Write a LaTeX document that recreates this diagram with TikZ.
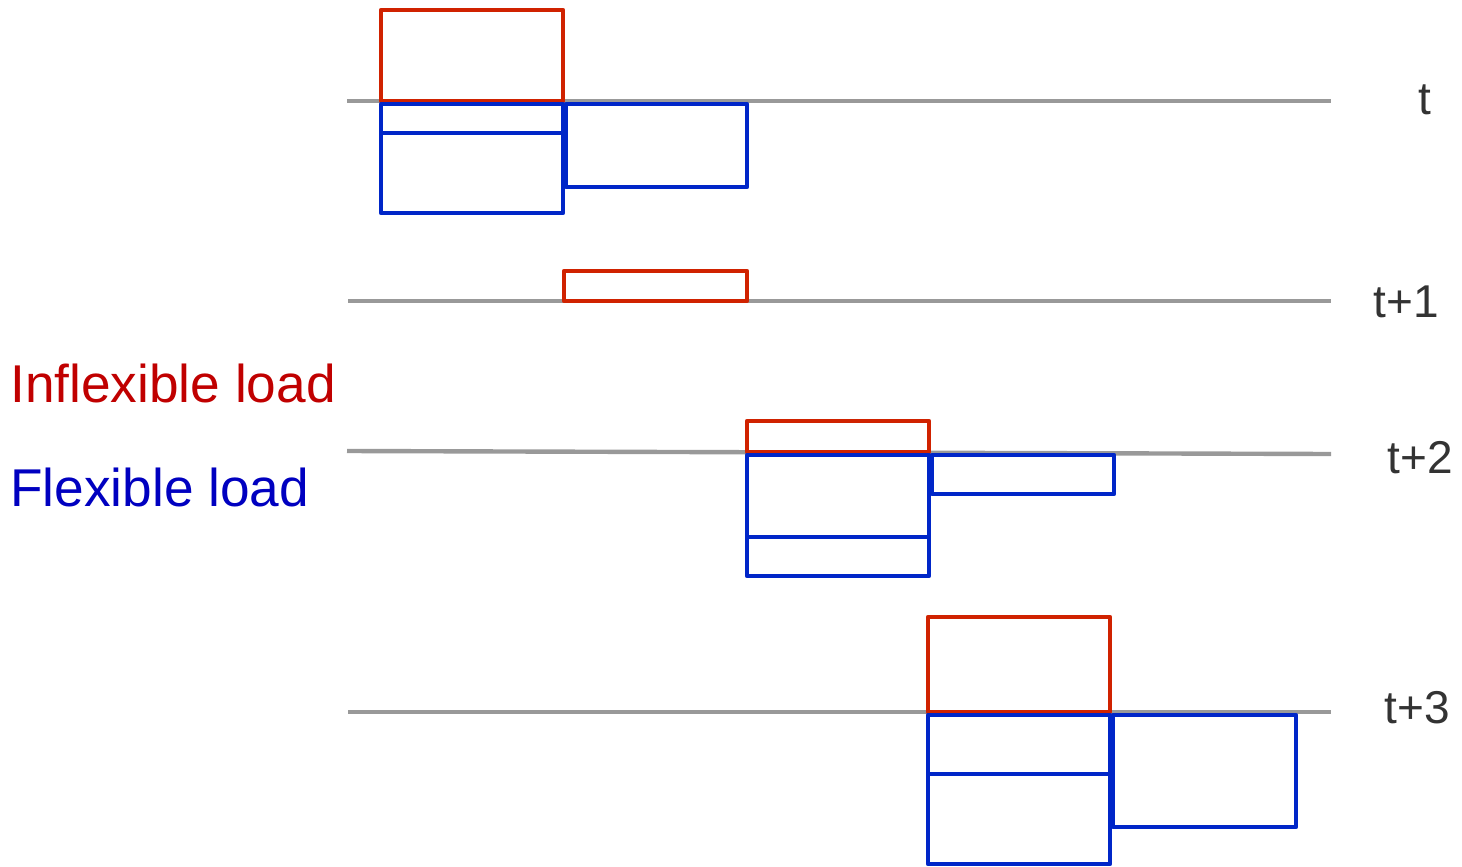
\documentclass[tikz,border=0pt]{standalone}
\usepackage{fontspec}
\setmainfont{Liberation Sans}
\definecolor{boxred}{RGB}{208,34,0}
\definecolor{boxblue}{RGB}{0,38,200}
\definecolor{axisgrey}{RGB}{153,153,153}
\definecolor{txtred}{RGB}{192,0,0}
\definecolor{txtblue}{RGB}{0,0,192}
\definecolor{txtgrey}{RGB}{51,51,51}
\tikzset{
  redbox/.style={draw=boxred,line width=2.4pt,line join=round},
  bluebox/.style={draw=boxblue,line width=2.4pt,line join=round},
  axisline/.style={draw=axisgrey,line width=2.2pt},
  timelabel/.style={text=txtgrey,anchor=base,inner sep=0pt,font=\fontsize{23}{27}\selectfont},
  legend/.style={anchor=base west,inner sep=0pt,font=\fontsize{26.6}{31}\selectfont}
}
\begin{document}
\begin{tikzpicture}[x=0.5pt,y=-0.5pt]
\useasboundingbox (0,0) rectangle (1462,867);
% axis lines
\draw[axisline] (347,101) -- (1331,101);
\draw[axisline] (348,301) -- (1331,301);
\draw[axisline] (347,451) -- (1331,454);
\draw[axisline] (348,712) -- (1331,712);
% row t
\draw[redbox] (381,10) rectangle (563,101);
\draw[bluebox] (381,104) rectangle (563,213);
\draw[bluebox] (381,133) -- (563,133);
\draw[bluebox] (566,104) rectangle (747,187);
% row t+1
\draw[redbox] (564,271) rectangle (747,301);
% row t+2
\draw[redbox] (747,421) rectangle (929,452);
\draw[bluebox] (747,455) rectangle (929,576);
\draw[bluebox] (747,537) -- (929,537);
\draw[bluebox] (932,455) rectangle (1114,494);
% row t+3
\draw[redbox] (928,617) rectangle (1110,712);
\draw[bluebox] (928,715) rectangle (1110,864);
\draw[bluebox] (928,774) -- (1110,774);
\draw[bluebox] (1113,715) rectangle (1296,827);
% time labels
\node[timelabel] (lt) at (1425,114) {t};
\node[timelabel] (lt1) at (1406,317) {t+1};
\node[timelabel] (lt2) at (1420,473) {t+2};
\node[timelabel] (lt3) at (1417,723) {t+3};
% legend
\node[legend,text=txtred] (inflex) at (10,402) {Inflexible load};
\node[legend,text=txtblue] (flex) at (10,506) {Flexible load};
\end{tikzpicture}
\end{document}
